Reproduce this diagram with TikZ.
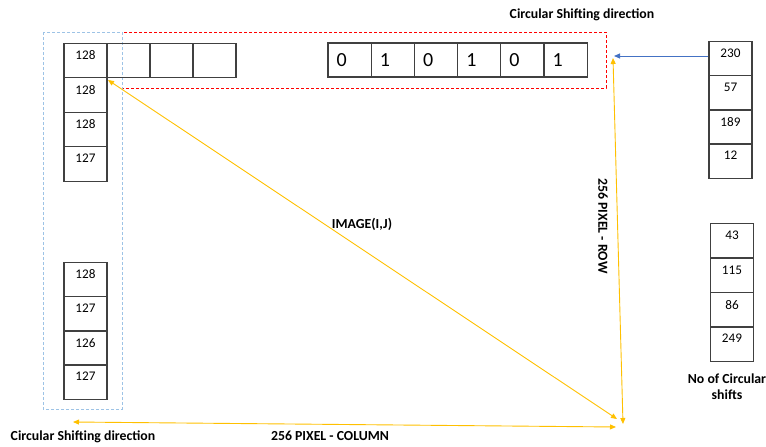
\documentclass[tikz,border=0pt]{standalone}
\usepackage{fontspec}
\setmainfont{Carlito}
\usetikzlibrary{arrows.meta}
\definecolor{cellline}{HTML}{404040}
\definecolor{goldline}{HTML}{FFC000}
\definecolor{blueline}{HTML}{4472C4}
\definecolor{lightblue}{HTML}{9DC3E6}
\definecolor{redline}{HTML}{FF0000}
\begin{document}
\begin{tikzpicture}[x=1pt,y=-1pt,
  cell/.style={draw=cellline, line width=1.1pt, minimum width=43pt, minimum height=34.5pt, inner sep=0pt},
  numtext/.style={font=\fontsize{13.2}{15}\selectfont, anchor=north, inner sep=0pt, yshift=-8pt},
  num/.style={cell, label={[numtext]north:#1}},
  bittext/.style={font=\fontsize{20}{22}\selectfont, anchor=west, inner sep=0pt, xshift=9pt},
  bit/.style={cell, minimum width=43.2pt, minimum height=34pt, label={[bittext]west:#1}},
  caption/.style={font=\bfseries\fontsize{13.8}{16.5}\selectfont, inner sep=0pt},
  gold/.style={draw=goldline, line width=0.9pt, {Triangle[length=6pt,width=5pt]}-{Triangle[length=6pt,width=5pt]}},
]
\useasboundingbox (0,0) rectangle (766,447);

% dashed frames round the first row and the first column
\draw[redline, line width=0.8pt, dash pattern=on 3pt off 2pt] (122,32) rectangle (606,88);
\draw[lightblue, line width=0.9pt, dash pattern=on 3pt off 2pt] (43,32) rectangle (122,409);

% first column, top part
\node[num=128] (c1) at (85.5,60.5) {};
\node[num=128] (c2) at (85.5,95) {};
\node[num=128] (c3) at (85.5,129.5) {};
\node[num=127] (c4) at (85.5,164) {};

% first row, empty cells
\node[cell] (r1) at (128.5,60.5) {};
\node[cell] (r2) at (171.5,60.5) {};
\node[cell] (r3) at (214.5,60.5) {};

% bit row
\node[bit=0] (b1) at (349.6,60) {};
\node[bit=1] (b2) at (392.8,60) {};
\node[bit=0] (b3) at (436.0,60) {};
\node[bit=1] (b4) at (479.2,60) {};
\node[bit=0] (b5) at (522.4,60) {};
\node[bit=1] (b6) at (565.6,60) {};

% first column, bottom part
\node[num=128] (d1) at (85.5,279.5) {};
\node[num=127] (d2) at (85.5,314) {};
\node[num=126] (d3) at (85.5,348) {};
\node[num=127] (d4) at (85.5,382) {};

% shift counts
\node[num=230] (s1) at (730.5,58.5) {};
\node[num=57]  (s2) at (730.5,93) {};
\node[num=189] (s3) at (730.5,127) {};
\node[num=12]  (s4) at (730.5,161) {};

\node[num=43]  (t1) at (732,240.5) {};
\node[num=115] (t2) at (732,275.5) {};
\node[num=86]  (t3) at (732,310) {};
\node[num=249] (t4) at (732,344) {};

% texts
\node[caption] (topcap) at (582,15) {Circular Shifting direction};
\node[caption] (botcap) at (83,437) {Circular Shifting direction};
\node[caption] (colcap) at (330,436) {256 PIXEL - COLUMN};
\node[caption] (imgcap) at (362,224) {IMAGE(I,J)};
\node[caption, rotate=-90] (rowcap) at (603,226) {256 PIXEL - ROW};
\node[caption, align=center] (shiftcap) at (727,386.5) {No of Circular\\shifts};

% arrow end points
\coordinate (corner) at (108,80);
\coordinate (diagend) at (617,419);
\coordinate (vtop) at (613,58);
\coordinate (vbot) at (623,424);
\coordinate (hleft) at (73,422);
\coordinate (hright) at (616,427);
\coordinate (bluetip) at (614,56);

% dimension arrows
\draw[gold] (corner) -- (diagend);
\draw[gold] (vtop) -- (vbot);
\draw[gold] (hleft) -- (hright);

% shift direction arrow
\draw[blueline, line width=0.9pt, -{Triangle[length=6pt,width=5pt]}] (s1.west |- bluetip) -- (bluetip);
\end{tikzpicture}
\end{document}
